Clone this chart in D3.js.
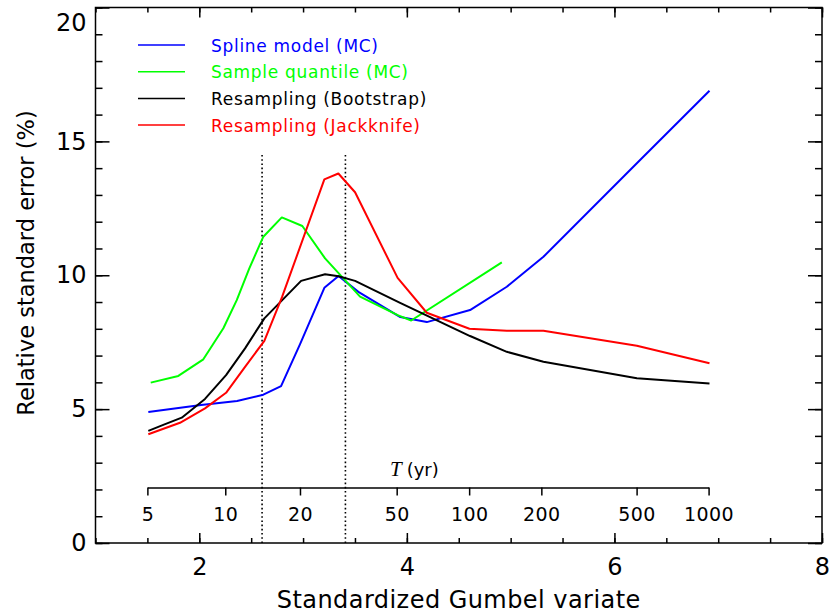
<!DOCTYPE html>
<html>
<head>
<meta charset="utf-8">
<script src="https://cdn.jsdelivr.net/npm/d3@7"></script>
<style>
  body { margin: 0; background: #fff; }
  svg text { font-family: "DejaVu Sans", sans-serif; fill: #000; }
</style>
</head>
<body>
<svg id="chart" width="835" height="614"></svg>
<script>
// Standardized Gumbel variate (x) and relative standard error in % (y) per method
const splineX = [1.509, 2.017, 2.364, 2.617, 2.788, 2.971, 3.205, 3.342, 3.533, 3.937, 4.192, 4.609, 4.963, 5.316, 6.216, 6.916];
const splineY = [4.89, 5.15, 5.30, 5.54, 5.86, 7.43, 9.53, 9.97, 9.38, 8.44, 8.25, 8.70, 9.57, 10.69, 14.18, 16.89];

const quantileX = [1.532, 1.798, 2.039, 2.232, 2.361, 2.482, 2.617, 2.795, 2.993, 3.212, 3.549, 3.917, 4.042, 4.915];
const quantileY = [5.99, 6.24, 6.86, 8.02, 9.07, 10.26, 11.44, 12.16, 11.84, 10.63, 9.20, 8.50, 8.31, 10.48];

const bootstrapX = [1.509, 1.653, 1.831, 2.055, 2.258, 2.441, 2.627, 2.981, 3.212, 3.342, 3.501, 3.935, 4.609, 4.963, 5.316, 6.216, 6.916];
const bootstrapY = [4.19, 4.41, 4.68, 5.38, 6.27, 7.27, 8.39, 9.79, 10.04, 9.96, 9.79, 8.97, 7.73, 7.14, 6.77, 6.15, 5.96];

const jackknifeX = [1.509, 1.814, 2.055, 2.258, 2.441, 2.627, 2.797, 3.205, 3.340, 3.501, 3.911, 4.192, 4.603, 4.963, 5.316, 6.216, 6.916];
const jackknifeY = [4.06, 4.49, 5.03, 5.61, 6.58, 7.55, 9.18, 13.58, 13.80, 13.10, 9.90, 8.60, 8.00, 7.93, 7.93, 7.37, 6.71];

const seriesNames = ["Spline model (MC)", "Sample quantile (MC)", "Resampling (Bootstrap)", "Resampling (Jackknife)"];
const seriesColors = ["#0000ff", "#00ff00", "#000000", "#ff0000"];

// Axis ticks
const xMajorTicks = [2, 4, 6, 8];
const yMajorTicks = [0, 5, 10, 15, 20];
const returnPeriods = [5, 10, 20, 50, 100, 200, 500, 1000];

// Dotted reference lines (Gumbel variate) and their height (%)
const guideX = [2.605, 3.408];
const guideTop = 14.5;

const svg = d3.select("#chart");
const plotLeft = 95.5, plotRight = 822, plotTop = 7.5, plotBottom = 543;

const x = d3.scaleLinear().domain([1, 8]).range([plotLeft, plotRight]);
const y = d3.scaleLinear().domain([0, 20]).range([plotBottom, plotTop]);

const xMinor = d3.range(1, 8.001, 0.5);
const yMinor = d3.range(0, 20.001, 1);

// Inward tick marks on all four sides
function ticks(axis, values, size, transform) {
  svg.append("g")
    .attr("transform", transform)
    .call(axis.tickValues(values).tickSizeInner(size).tickSizeOuter(0).tickFormat(""))
    .call(g => g.select(".domain").remove())
    .call(g => g.selectAll("line").attr("stroke", "#000").attr("stroke-width", 1.5));
}
ticks(d3.axisTop(x), xMinor, 5, `translate(0,${plotBottom})`);
ticks(d3.axisTop(x), xMajorTicks, 10, `translate(0,${plotBottom})`);
ticks(d3.axisBottom(x), xMinor, 5, `translate(0,${plotTop})`);
ticks(d3.axisBottom(x), xMajorTicks, 10, `translate(0,${plotTop})`);
ticks(d3.axisRight(y), yMinor, 7, `translate(${plotLeft},0)`);
ticks(d3.axisRight(y), yMajorTicks, 14, `translate(${plotLeft},0)`);
ticks(d3.axisLeft(y), yMinor, 7, `translate(${plotRight},0)`);
ticks(d3.axisLeft(y), yMajorTicks, 14, `translate(${plotRight},0)`);

// Frame
svg.append("rect")
  .attr("x", plotLeft).attr("y", plotTop)
  .attr("width", plotRight - plotLeft).attr("height", plotBottom - plotTop)
  .attr("fill", "none").attr("stroke", "#000").attr("stroke-width", 1.5);

// Tick labels
svg.append("g")
  .attr("transform", `translate(0,${plotBottom})`)
  .call(d3.axisBottom(x).tickValues(xMajorTicks).tickFormat(d3.format("d")).tickSize(0).tickPadding(15))
  .call(g => g.select(".domain").remove())
  .call(g => g.selectAll("text").attr("font-size", 24).attr("font-family", "DejaVu Sans"));

svg.append("g")
  .attr("transform", `translate(${plotLeft},0)`)
  .call(d3.axisLeft(y).tickValues(yMajorTicks).tickFormat(d3.format("d")).tickSize(0).tickPadding(9))
  .call(g => g.select(".domain").remove())
  .call(g => g.selectAll("text").attr("font-size", 24).attr("font-family", "DejaVu Sans")
    .attr("dy", d => d === 20 ? "0.95em" : "0.32em"));

// Return-period axis, placed via the Gumbel reduced variate
const gumbel = T => -Math.log(-Math.log(1 - 1 / T));
const gT = returnPeriods.map(gumbel);
const tAxisScale = d3.scaleLinear()
  .domain([gT[0], gT[gT.length - 1]])
  .range([x(gT[0]), x(gT[gT.length - 1])]);
const tAxisY = 487.5;
svg.append("g")
  .attr("transform", `translate(0,${tAxisY})`)
  .call(d3.axisBottom(tAxisScale).tickValues(gT).tickSizeInner(8).tickSizeOuter(0).tickPadding(12)
    .tickFormat((d, i) => returnPeriods[i]))
  .call(g => g.select(".domain").attr("stroke", "#000").attr("stroke-width", 1.5))
  .call(g => g.selectAll("line").attr("stroke-width", 1.5))
  .call(g => g.selectAll("text").attr("font-size", 19).attr("font-family", "DejaVu Sans")
    .attr("letter-spacing", 0.4));

const tLabel = svg.append("text").attr("x", 390).attr("y", 476).attr("font-size", 18);
tLabel.append("tspan").text("T").attr("font-family", "Liberation Serif").attr("font-style", "italic").attr("font-size", 21);
tLabel.append("tspan").text("(yr)").attr("dx", 5).attr("font-family", "DejaVu Sans");

// Dotted reference lines
svg.selectAll(".guide").data(guideX).join("line")
  .attr("class", "guide")
  .attr("x1", d => x(d)).attr("x2", d => x(d))
  .attr("y1", y(0)).attr("y2", y(guideTop))
  .attr("stroke", "#000").attr("stroke-width", 1.6)
  .attr("stroke-dasharray", "1.6 2.6");

// Series lines
const series = [
  d3.zip(splineX, splineY),
  d3.zip(quantileX, quantileY),
  d3.zip(bootstrapX, bootstrapY),
  d3.zip(jackknifeX, jackknifeY)
];
const line = d3.line().x(d => x(d[0])).y(d => y(d[1]));
svg.selectAll(".series").data(series).join("path")
  .attr("class", "series")
  .attr("d", line)
  .attr("fill", "none")
  .attr("stroke", (d, i) => seriesColors[i])
  .attr("stroke-width", 2)
  .attr("stroke-linejoin", "round");

// Legend
const legend = svg.append("g");
seriesNames.forEach((name, i) => {
  const ly = 45 + i * 26.7;
  legend.append("line")
    .attr("x1", 138).attr("x2", 185).attr("y1", ly).attr("y2", ly)
    .attr("stroke", seriesColors[i]).attr("stroke-width", 1.5);
  legend.append("text")
    .attr("x", 211).attr("y", ly + 6.5)
    .attr("font-size", 17)
    .attr("letter-spacing", 0.7)
    .style("fill", seriesColors[i])
    .text(name);
});

// Axis titles
svg.append("text")
  .attr("x", (plotLeft + plotRight) / 2).attr("y", 608)
  .attr("text-anchor", "middle").attr("font-size", 24)
  .attr("letter-spacing", 0.45)
  .text("Standardized Gumbel variate");

svg.append("text")
  .attr("transform", "translate(33.5,263) rotate(-90)")
  .attr("text-anchor", "middle").attr("font-size", 22.5)
  .text("Relative standard error (%)");
</script>
</body>
</html>
